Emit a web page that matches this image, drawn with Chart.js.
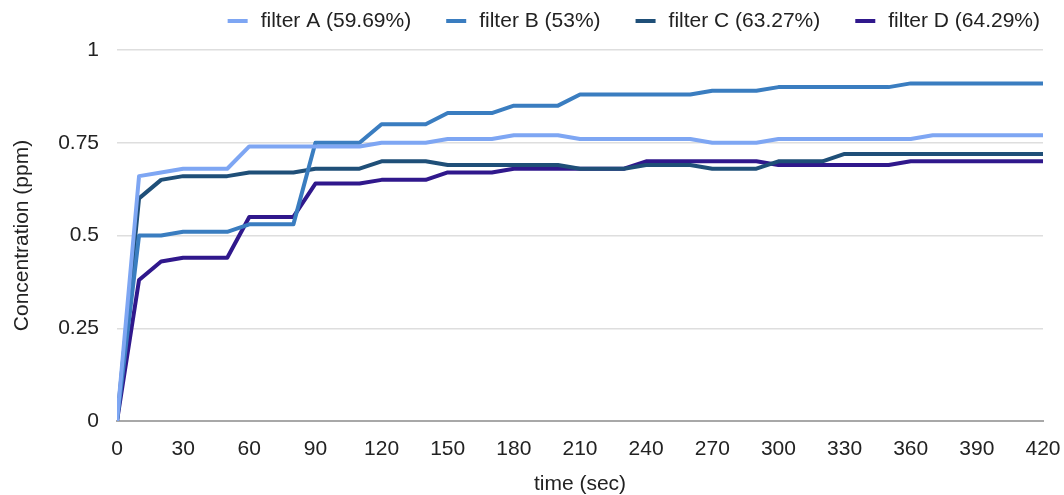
<!DOCTYPE html>
<html><head><meta charset="utf-8">
<script src="https://cdn.jsdelivr.net/npm/chart.js@4"></script>
<style>html,body{margin:0;padding:0;background:#fff}#wrap{width:1064px;height:495px}</style>
</head><body><div id="wrap"><canvas id="c"></canvas></div>
<script>
const times = [0,10,20,30,40,50,60,70,80,90,100,110,120,130,140,150,160,170,180,190,200,210,220,230,240,250,260,270,280,290,300,310,320,330,340,350,360,370,380,390,400,410,420];
const filterA = [0,0.66,0.67,0.68,0.68,0.68,0.74,0.74,0.74,0.74,0.74,0.74,0.75,0.75,0.75,0.76,0.76,0.76,0.77,0.77,0.77,0.76,0.76,0.76,0.76,0.76,0.76,0.75,0.75,0.75,0.76,0.76,0.76,0.76,0.76,0.76,0.76,0.77,0.77,0.77,0.77,0.77,0.77];
const filterB = [0,0.50,0.50,0.51,0.51,0.51,0.53,0.53,0.53,0.75,0.75,0.75,0.80,0.80,0.80,0.83,0.83,0.83,0.85,0.85,0.85,0.88,0.88,0.88,0.88,0.88,0.88,0.89,0.89,0.89,0.90,0.90,0.90,0.90,0.90,0.90,0.91,0.91,0.91,0.91,0.91,0.91,0.91];
const filterC = [0,0.60,0.65,0.66,0.66,0.66,0.67,0.67,0.67,0.68,0.68,0.68,0.70,0.70,0.70,0.69,0.69,0.69,0.69,0.69,0.69,0.68,0.68,0.68,0.69,0.69,0.69,0.68,0.68,0.68,0.70,0.70,0.70,0.72,0.72,0.72,0.72,0.72,0.72,0.72,0.72,0.72,0.72];
const filterD = [0,0.38,0.43,0.44,0.44,0.44,0.55,0.55,0.55,0.64,0.64,0.64,0.65,0.65,0.65,0.67,0.67,0.67,0.68,0.68,0.68,0.68,0.68,0.68,0.70,0.70,0.70,0.70,0.70,0.70,0.69,0.69,0.69,0.69,0.69,0.69,0.70,0.70,0.70,0.70,0.70,0.70,0.70];
const seriesNames = ['filter A (59.69%)','filter B (53%)','filter C (63.27%)','filter D (64.29%)'];
const colors = ['#7ea6f3','#3a7dc0','#1f4f78','#30188c'];
const yTicks = [0,0.25,0.5,0.75,1];

const FONT = "'Liberation Sans', Arial, Helvetica, sans-serif";
const FSIZE = 21;
const series = [filterA, filterB, filterC, filterD];
const datasets = series.map((vals,i)=>({
  label: seriesNames[i],
  data: times.map((t,j)=>({x:t,y:vals[j]})),
  borderColor: colors[i],
  backgroundColor: colors[i],
  borderWidth: 4,
  pointRadius: 0,
  tension: 0,
  borderJoinStyle: 'round'
}));

// Legend drawn from dataset labels/colours, right-aligned over the plot
const topLegend = {
  id: 'topLegend',
  afterDraw(chart) {
    const ctx = chart.ctx;
    ctx.save();
    ctx.font = FSIZE + 'px ' + FONT;
    ctx.textBaseline = 'middle';
    ctx.textAlign = 'left';
    const box = 20, gap = 13, itemGap = 35, cy = 21;
    const items = chart.data.datasets.map(d => ({ text: d.label, color: d.borderColor, w: ctx.measureText(d.label).width }));
    const total = items.reduce((s, it) => s + box + gap + it.w, 0) + itemGap * (items.length - 1);
    let x = chart.chartArea.right - 3 - total;
    items.forEach(it => {
      ctx.fillStyle = it.color;
      ctx.fillRect(x, cy - 2, box, 4);
      ctx.fillStyle = '#222';
      ctx.fillText(it.text, x + box + gap, cy);
      x += box + gap + it.w + itemGap;
    });
    ctx.restore();
  }
};

new Chart(document.getElementById('c'), {
  type: 'line',
  data: { datasets },
  plugins: [topLegend],
  options: {
    responsive: true,
    maintainAspectRatio: false,
    animation: false,
    layout: { padding: { left: 0, right: 0, top: 50, bottom: 0 } },
    plugins: {
      legend: { display: false },
      tooltip: { enabled: false }
    },
    scales: {
      x: {
        type: 'linear',
        min: 0, max: 420,
        afterFit(scale) { scale.height = 74; scale.paddingRight = 21; },
        ticks: { stepSize: 30, font: { family: FONT, size: FSIZE }, color: '#222', padding: 16, maxRotation: 0 },
        grid: { display: false, drawTicks: false },
        border: { display: true, color: '#a8a8a8', width: 2 },
        title: { display: true, text: 'time (sec)', font: { family: FONT, size: FSIZE, lineHeight: 1.0 }, color: '#222', padding: { top: 0, bottom: 0 } }
      },
      y: {
        min: 0, max: 1,
        afterBuildTicks(scale) { scale.ticks = yTicks.map(v => ({ value: v })); },
        afterFit(scale) { scale.width = 117; },
        ticks: { font: { family: FONT, size: FSIZE }, color: '#222', padding: 18,
          callback: v => String(v) },
        grid: { color: '#dedede', lineWidth: 1.5, drawTicks: false },
        border: { display: false },
        title: { display: true, text: 'Concentration (ppm)', font: { family: FONT, size: FSIZE }, color: '#222', padding: { top: 10, bottom: 0 } }
      }
    }
  }
});
</script></body></html>
